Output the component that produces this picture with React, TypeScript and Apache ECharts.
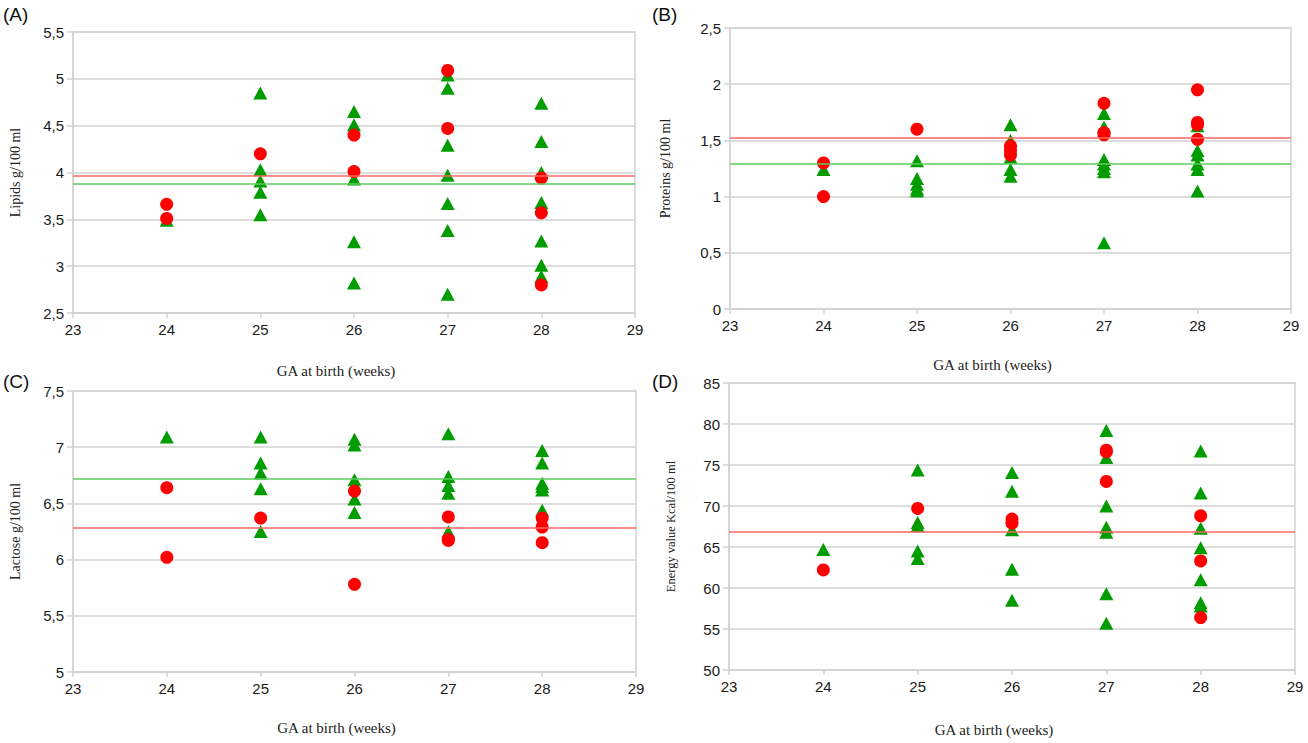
import React, { useEffect, useRef } from 'react';
import * as echarts from 'echarts';

// gestational age groups (weeks)
const weeks = [24, 25, 26, 27, 28];

// (A) lipids g/100 ml
const lipidsTriangles = [
  [3.49],
  [4.85, 4.03, 3.91, 3.79, 3.55],
  [4.65, 4.51, 3.93, 3.26, 2.82],
  [5.04, 4.9, 4.29, 3.97, 3.67, 3.38, 2.7],
  [4.74, 4.33, 4.0, 3.68, 3.27, 3.01, 2.89],
];
const lipidsCircles = [
  [3.66, 3.51],
  [4.2],
  [4.4, 4.01],
  [5.09, 4.47],
  [3.94, 3.57, 2.8],
];
const lipidsMeans = { red: 3.97, green: 3.88 };

// (B) proteins g/100 ml
const proteinsTriangles = [
  [1.24],
  [1.32, 1.16, 1.11, 1.07, 1.05],
  [1.64, 1.5, 1.35, 1.24, 1.18],
  [1.74, 1.62, 1.33, 1.29, 1.25, 1.22, 0.59],
  [1.63, 1.41, 1.37, 1.29, 1.24, 1.05],
];
const proteinsCircles = [
  [1.3, 1.0],
  [1.6],
  [1.45, 1.41, 1.37],
  [1.83, 1.57, 1.55],
  [1.95, 1.66, 1.64, 1.51],
];
const proteinsMeans = { red: 1.52, green: 1.29 };

// (C) lactose g/100 ml
const lactoseTriangles = [
  [7.09],
  [7.09, 6.86, 6.77, 6.63, 6.25],
  [7.07, 7.02, 6.71, 6.54, 6.42],
  [7.12, 6.74, 6.66, 6.59, 6.25],
  [6.97, 6.86, 6.68, 6.65, 6.62, 6.44],
];
const lactoseCircles = [
  [6.64, 6.02],
  [6.37],
  [6.61, 5.78],
  [6.38, 6.18, 6.17],
  [6.37, 6.29, 6.15],
];
const lactoseMeans = { red: 6.28, green: 6.725 };

// (D) energy value Kcal/100 ml
const energyTriangles = [
  [64.7],
  [74.4, 68.0, 67.6, 64.5, 63.6],
  [74.1, 71.8, 67.1, 62.3, 58.5],
  [79.2, 75.9, 70.0, 67.4, 66.8, 59.3, 55.7],
  [76.7, 71.6, 67.3, 64.9, 61.0, 58.2, 57.8],
];
const energyCircles = [
  [62.2],
  [69.7],
  [68.4, 67.9],
  [76.8, 76.6, 73.0],
  [68.8, 63.3, 56.4],
];
const energyMeans: { red: number; green?: number } = { red: 66.8 };

const panels = [
  {
    tag: '(A)', yName: 'Lipids g/100 ml', yMin: 2.5, yMax: 5.5, yStep: 0.5,
    tri: lipidsTriangles, dot: lipidsCircles, means: lipidsMeans,
    box: { left: 73, top: 32, width: 562, height: 281 }, nameGap: 51, xNameGap: 50, nameSize: 14,
  },
  {
    tag: '(B)', yName: 'Proteins g/100 ml', yMin: 0, yMax: 2.5, yStep: 0.5,
    tri: proteinsTriangles, dot: proteinsCircles, means: proteinsMeans,
    box: { left: 730, top: 28, width: 561, height: 281 }, nameGap: 58, xNameGap: 48, nameSize: 14,
  },
  {
    tag: '(C)', yName: 'Lactose g/100 ml', yMin: 5, yMax: 7.5, yStep: 0.5,
    tri: lactoseTriangles, dot: lactoseCircles, means: lactoseMeans,
    box: { left: 73, top: 391, width: 563, height: 281 }, nameGap: 51, xNameGap: 48, nameSize: 14,
  },
  {
    tag: '(D)', yName: 'Energy value Kcal/100 ml', yMin: 50, yMax: 85, yStep: 5,
    tri: energyTriangles, dot: energyCircles, means: energyMeans,
    box: { left: 729, top: 383, width: 566, height: 287 }, nameGap: 52, xNameGap: 52, nameSize: 12.5,
  },
];

const GREEN = '#009c00';
const RED = '#ff0000';
const GRID_GREY = '#d2d2d2';
const tickFont = "'Liberation Sans', Arial, sans-serif";
const serifFont = "'Liberation Serif', 'Times New Roman', serif";

const toPoints = (groups: number[][]) =>
  groups.flatMap((vals, i) => vals.map((v) => [weeks[i], v]));

const App: React.FC = () => {
  const chartRef = useRef<HTMLDivElement>(null);

  useEffect(() => {
    document.body.style.margin = '0';
    if (!chartRef.current) return;
    const chart = echarts.init(chartRef.current, undefined, { renderer: 'svg' });

    const grid = panels.map((p) => ({
      ...p.box,
      show: true,
      borderColor: GRID_GREY,
      borderWidth: 1.5,
      backgroundColor: 'transparent',
    }));

    const xAxis = panels.map((p, i) => ({
      type: 'value',
      gridIndex: i,
      min: 23,
      max: 29,
      interval: 1,
      name: 'GA at birth (weeks)',
      nameLocation: 'middle',
      nameGap: p.xNameGap,
      nameTextStyle: { fontFamily: serifFont, fontSize: 15, color: '#222', padding: [0, 36, 0, 0] },
      axisLine: { show: true, lineStyle: { color: GRID_GREY, width: 1.5 } },
      axisTick: { show: true, length: 5, lineStyle: { color: GRID_GREY, width: 1.5 } },
      axisLabel: { fontFamily: tickFont, fontSize: 15, color: '#1a1a1a', margin: 9 },
      splitLine: { show: false },
    }));

    const yAxis = panels.map((p, i) => ({
      type: 'value',
      gridIndex: i,
      min: p.yMin,
      max: p.yMax,
      interval: p.yStep,
      name: p.yName,
      nameLocation: 'middle',
      nameGap: p.nameGap,
      nameTextStyle: { fontFamily: serifFont, fontSize: p.nameSize, color: '#222' },
      axisLine: { show: true, lineStyle: { color: GRID_GREY, width: 1.5 } },
      axisTick: { show: true, length: 6, lineStyle: { color: GRID_GREY, width: 1.5 } },
      axisLabel: {
        fontFamily: tickFont,
        fontSize: 15,
        color: '#1a1a1a',
        margin: 9,
        formatter: (v: number) => String(v).replace('.', ','),
      },
      splitLine: { show: true, lineStyle: { color: GRID_GREY, width: 1.5 } },
    }));

    const series: any[] = [];
    panels.forEach((p, i) => {
      const lines: any[] = [];
      if (p.means.green !== undefined) {
        lines.push({ yAxis: p.means.green, lineStyle: { color: '#5ccc5c', width: 1.6, type: 'solid' } });
      }
      lines.push({ yAxis: p.means.red, lineStyle: { color: '#ff6464', width: 1.6, type: 'solid' } });

      series.push({
        type: 'scatter',
        xAxisIndex: i,
        yAxisIndex: i,
        data: [],
        z: 1,
        markLine: {
          silent: true,
          symbol: ['none', 'none'],
          label: { show: false },
          data: lines,
        },
      });
      series.push({
        type: 'scatter',
        xAxisIndex: i,
        yAxisIndex: i,
        symbol: 'triangle',
        symbolSize: [14, 13],
        itemStyle: { color: GREEN, opacity: 1 },
        data: toPoints(p.tri),
        z: 3,
      });
      series.push({
        type: 'scatter',
        xAxisIndex: i,
        yAxisIndex: i,
        symbol: 'circle',
        symbolSize: 13,
        itemStyle: { color: RED, opacity: 1 },
        data: toPoints(p.dot),
        z: 4,
      });
    });

    const tagPos = [
      [3, 5],
      [652, 5],
      [3, 372],
      [652, 372],
    ];

    chart.setOption({
      animation: false,
      grid,
      xAxis,
      yAxis,
      series,
      graphic: panels.map((p, i) => ({
        type: 'text',
        left: tagPos[i][0],
        top: tagPos[i][1],
        style: { text: p.tag, fontFamily: tickFont, fontSize: 19, fill: '#111' },
      })),
    });

    return () => {
      chart.dispose();
    };
  }, []);

  return <div ref={chartRef} style={{ width: 1308, height: 743, background: '#fff' }} />;
};

export default App;
